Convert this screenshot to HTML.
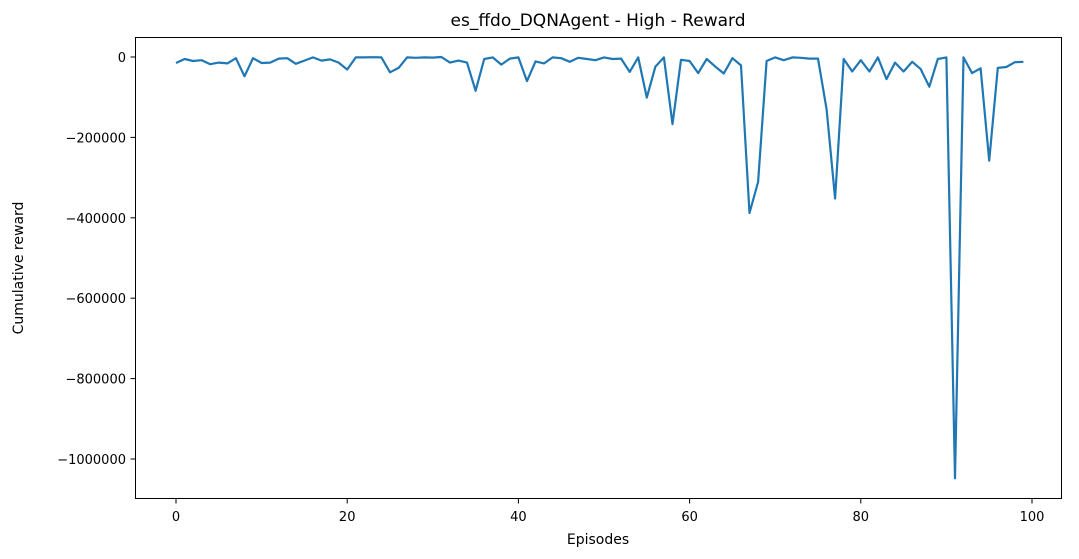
<!DOCTYPE html>
<html><head><meta charset="utf-8"><style>
body{margin:0;background:#fff;}
svg{display:block;font-family:"DejaVu Sans","Liberation Sans",sans-serif;}
</style></head><body>
<svg id="chart" width="1079" height="559">
<rect x="0" y="0" width="1079" height="559" fill="#fff"/>
<text x="598" y="26" font-size="17" text-anchor="middle" fill="#000">es_ffdo_DQNAgent - High - Reward</text>
<g id="grid"></g>
<polyline id="line" fill="none" stroke="#1f77b4" stroke-width="2.2" stroke-linejoin="round"/>
<rect x="135.5" y="37.5" width="926" height="461" fill="none" stroke="#000" stroke-width="1"/>
<g id="ticks"></g>
<text x="598" y="544" font-size="14" text-anchor="middle">Episodes</text>
<text x="23" y="268" font-size="14" text-anchor="middle" transform="rotate(-90 23 268)">Cumulative reward</text>
</svg>
<script>
const rewards=[-15000,-5000,-10000,-8000,-18000,-14000,-16000,-3000,-48000,-3000,
-15000,-14000,-4000,-3000,-17000,-9000,-1000,-9000,-6000,-14000,
-31000,-1000,-1000,-500,-1000,-38000,-27000,-1000,-2000,-1000,
-1500,0,-14000,-9000,-14000,-84000,-5000,-1000,-19000,-4000,
-1000,-60000,-11000,-16000,-1000,-3000,-12000,-2000,-5000,-8000,
-1000,-5000,-4000,-37000,-1000,-101000,-24000,-1000,-167000,-7000,
-10000,-40000,-5000,-24000,-41000,-3000,-21000,-388000,-311000,-10000,
-1000,-8000,-1000,-2000,-4000,-4000,-130000,-352000,-5000,-36000,
-8000,-36000,-1000,-55000,-14000,-36000,-12000,-30000,-74000,-5000,
-1000,-1048000,-1000,-40000,-28000,-258000,-27000,-25000,-13000,-12000];
const xTicks=[0,20,40,60,80,100];
const yTicks=[0,-200000,-400000,-600000,-800000,-1000000];
const X=v=>176+v*8.56;
const Y=v=>57-v*0.000402;
const ns="http://www.w3.org/2000/svg";
const line=document.getElementById('line');
line.setAttribute('points',rewards.map((v,i)=>X(i).toFixed(1)+','+Y(v).toFixed(1)).join(' '));
const tg=document.getElementById('ticks');
function mk(tag,attrs,txt){const e=document.createElementNS(ns,tag);for(const k in attrs)e.setAttribute(k,attrs[k]);if(txt!==undefined)e.textContent=txt;tg.appendChild(e);return e;}
xTicks.forEach(t=>{
 const l=mk('line',{x1:X(t),x2:X(t),y1:498.5,y2:503.5,stroke:'#000'});
 
 
 const s=mk('text',{x:X(t),y:521,'font-size':13,'text-anchor':'middle'},String(t));
 
 
});
yTicks.forEach(t=>{
 const l=mk('line',{x1:130.5,x2:135.5,y1:Y(t),y2:Y(t),stroke:'#000'});
 
 
 const s=mk('text',{x:126,y:Y(t)+5,'font-size':13,'text-anchor':'end'},String(t).replace('-','\u2212'));
 
 
});
</script>
</body></html>
